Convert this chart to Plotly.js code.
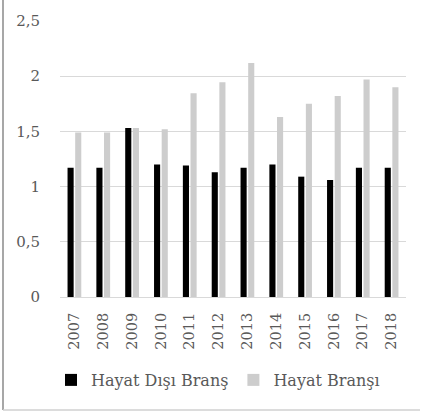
<!DOCTYPE html>
<html>
<head>
<meta charset="utf-8">
<script src="https://cdn.plot.ly/plotly-3.0.1.min.js"></script>
<style>
html,body{margin:0;padding:0;background:#fff;}
#chart{width:421px;height:412px;}
</style>
</head>
<body>
<div id="chart"></div>
<script>
const years = ['2007','2008','2009','2010','2011','2012','2013','2014','2015','2016','2017','2018'];
const hayatDisi = [1.17,1.17,1.53,1.20,1.19,1.13,1.17,1.20,1.09,1.06,1.17,1.17];
const hayat = [1.49,1.49,1.53,1.52,1.845,1.945,2.12,1.63,1.75,1.82,1.97,1.90];
const seriesNames = ['Hayat Dışı Branş','Hayat Branşı'];

const fam = 'DejaVu Serif';
const grey = '#595959';

const data = [
  {type:'bar', x:years, y:hayatDisi, name:seriesNames[0], marker:{color:'#000000'}},
  {type:'bar', x:years, y:hayat, name:seriesNames[1], marker:{color:'#cdcdcd'}}
];

const L=60, R=15, T=21, B=115, W=421, H=412;
const pw = W-L-R, ph = H-T-B;

const layout = {
  width:W, height:H,
  margin:{l:L, r:R, t:T, b:B, pad:0},
  paper_bgcolor:'#fff', plot_bgcolor:'#fff',
  separators:',.',
  font:{family:fam, size:14, color:grey},
  barmode:'group', bargap:0.47, bargroupgap:0.2,
  showlegend:true,
  legend:{orientation:'h', x:(51-L)/pw, xanchor:'left', y:-(380-T-ph)/ph, yanchor:'middle',
          font:{family:fam, size:16, color:grey}, traceorder:'normal', itemwidth:30,
          bgcolor:'rgba(0,0,0,0)'},
  xaxis:{type:'category', tickangle:-90, showgrid:false, zeroline:false, showline:false,
         ticks:'', tickfont:{family:fam, size:14.5, color:grey}, ticklabelstandoff:12},
  yaxis:{range:[0,2.5], dtick:0.5, tick0:0, showgrid:true, gridcolor:'#d9d9d9', gridwidth:1,
         zeroline:true, zerolinecolor:'#d9d9d9', zerolinewidth:1, showline:false, ticks:'',
         tickfont:{family:fam, size:15, color:grey}, ticklabelstandoff:19},
  shapes:[
    {type:'line', xref:'paper', yref:'paper', x0:(3-L)/pw, x1:(3-L)/pw, y0:-(410-T-ph)/ph, y1:(ph+T)/ph, line:{color:'#8a8a8a', width:1.5}},
    {type:'line', xref:'paper', yref:'paper', x0:(3-L)/pw, x1:(420-L)/pw, y0:-(410-T-ph)/ph, y1:-(410-T-ph)/ph, line:{color:'#d0d0d0', width:1.5}}
  ]
};

Plotly.newPlot('chart', data, layout, {displayModeBar:false, staticPlot:true});
</script>
</body>
</html>
